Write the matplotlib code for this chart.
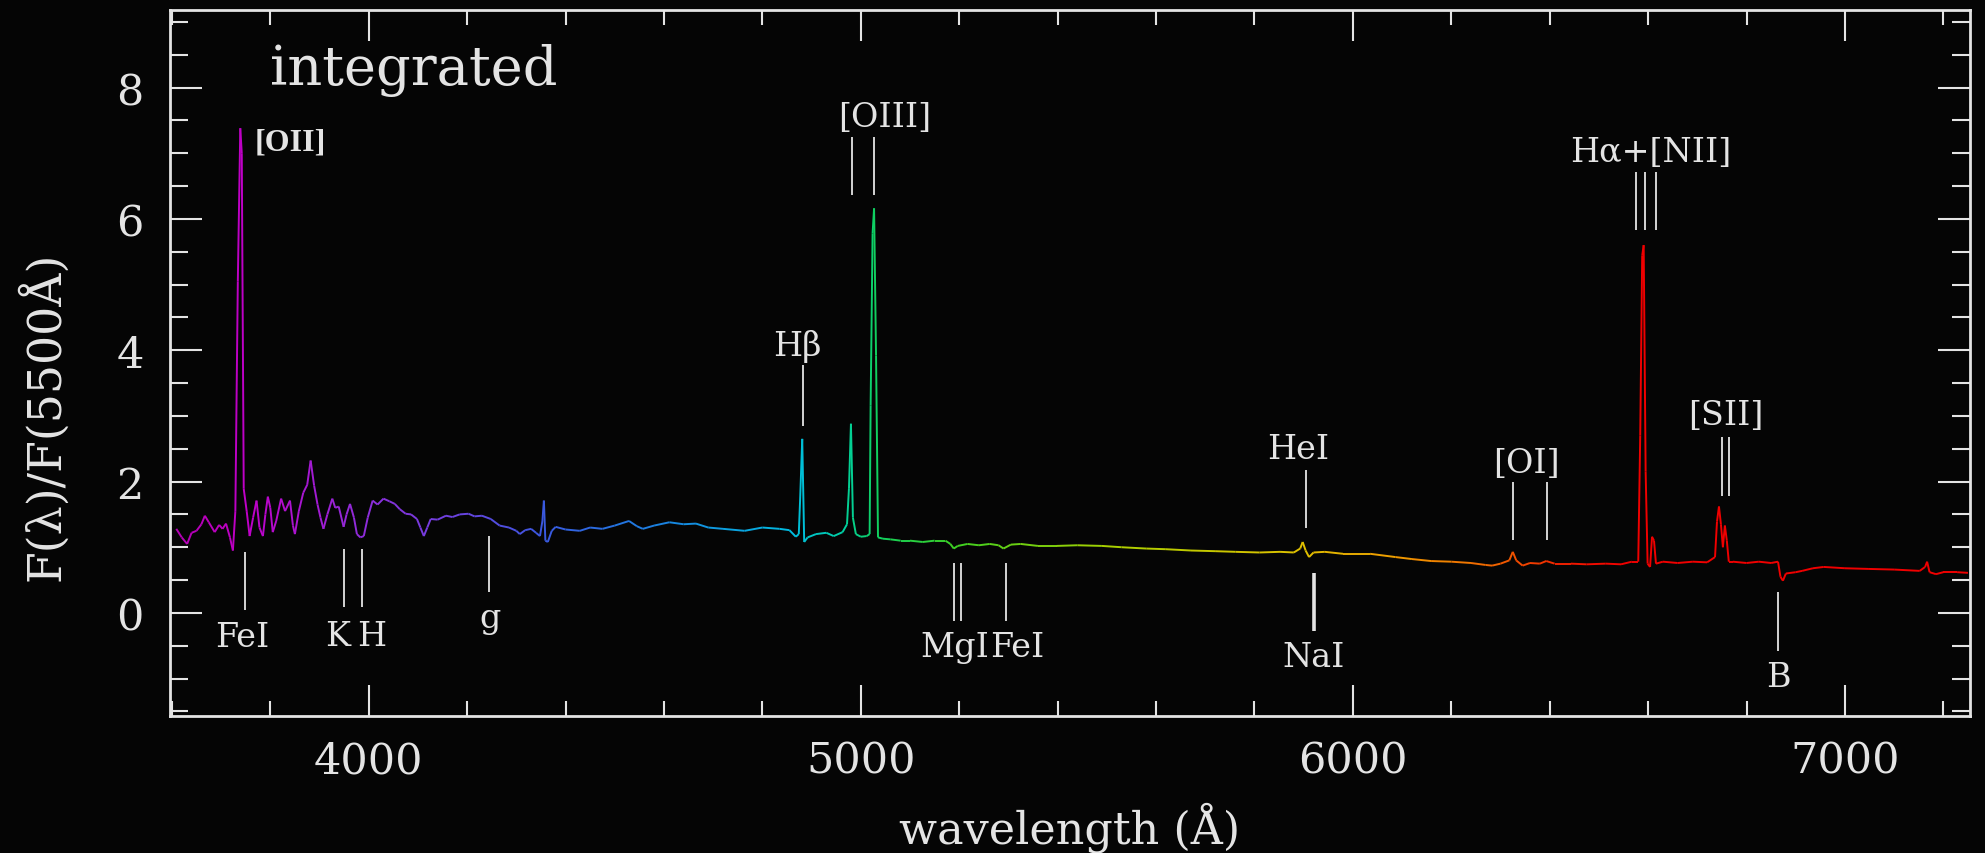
import numpy as np
import matplotlib.pyplot as plt
from matplotlib.collections import LineCollection
from matplotlib.colors import LinearSegmentedColormap, Normalize

# integrated spectrum: wavelength (Å) and F(lambda)/F(5500)
wave = [3609, 3620, 3631, 3640, 3650, 3660, 3667, 3675, 3687, 3696, 3703, 3710, 3718, 3724,
        3729, 3734, 3739, 3742, 3746, 3752, 3758, 3765, 3772, 3778, 3785, 3790, 3795, 3800,
        3805, 3812, 3822, 3830, 3840, 3846, 3850, 3858, 3867, 3875, 3882, 3889, 3896, 3902,
        3908, 3916, 3926, 3932, 3939, 3949, 3955, 3962, 3970, 3976, 3983, 3990, 3998, 4008,
        4018, 4030, 4042, 4053, 4063, 4075, 4086, 4098, 4105, 4112, 4119, 4126, 4140, 4157,
        4170, 4185, 4203, 4215, 4230, 4248, 4266, 4285, 4300, 4307, 4318, 4330, 4340, 4348,
        4353, 4356, 4359, 4364, 4372, 4380, 4400, 4429, 4450, 4475, 4500, 4529, 4545, 4557,
        4580, 4611, 4640, 4665, 4690, 4720, 4764, 4800, 4835, 4855, 4868, 4874, 4877, 4881,
        4885, 4892, 4909, 4930, 4945, 4963, 4972, 4976, 4980, 4984, 4990, 5000, 5012, 5018,
        5020, 5024, 5027, 5031, 5035, 5045, 5060, 5081, 5100, 5126, 5150, 5172, 5182, 5189,
        5197, 5217, 5240, 5262, 5280, 5290, 5305, 5325, 5360, 5398, 5440, 5490, 5530, 5580,
        5620, 5671, 5720, 5762, 5810, 5852, 5880, 5893, 5898, 5904, 5911, 5920, 5943, 5980,
        6035, 6087, 6120, 6159, 6200, 6240, 6270, 6283, 6300, 6318, 6325, 6332, 6345, 6360,
        6380, 6393, 6410, 6443, 6475, 6514, 6545, 6567, 6580, 6584, 6588, 6591, 6595, 6599,
        6604, 6608, 6612, 6616, 6630, 6660, 6691, 6720, 6736, 6740, 6744, 6748, 6752, 6756,
        6760, 6764, 6772, 6800, 6825, 6850, 6864, 6869, 6874, 6880, 6900, 6913, 6935, 6957,
        7000, 7047, 7100, 7152, 7163, 7167, 7172, 7185, 7200, 7228, 7250]
flux = [1.28, 1.15, 1.05, 1.22, 1.25, 1.35, 1.48, 1.38, 1.23, 1.34, 1.28, 1.36, 1.15, 0.95,
        1.55, 5.05, 7.38, 7.00, 1.89, 1.55, 1.17, 1.45, 1.71, 1.30, 1.17, 1.50, 1.77, 1.60,
        1.23, 1.40, 1.74, 1.55, 1.71, 1.33, 1.20, 1.55, 1.83, 1.95, 2.32, 1.94, 1.65, 1.45,
        1.28, 1.50, 1.74, 1.60, 1.62, 1.31, 1.50, 1.66, 1.45, 1.20, 1.15, 1.17, 1.45, 1.71,
        1.65, 1.74, 1.70, 1.66, 1.58, 1.51, 1.50, 1.43, 1.30, 1.17, 1.30, 1.43, 1.42, 1.48,
        1.46, 1.50, 1.51, 1.47, 1.48, 1.43, 1.33, 1.30, 1.25, 1.20, 1.26, 1.28, 1.22, 1.17,
        1.40, 1.71, 1.10, 1.08, 1.25, 1.31, 1.27, 1.25, 1.30, 1.28, 1.33, 1.40, 1.32, 1.28,
        1.33, 1.38, 1.35, 1.36, 1.30, 1.28, 1.25, 1.30, 1.28, 1.26, 1.16, 1.20, 1.78, 2.65,
        1.08, 1.15, 1.20, 1.22, 1.17, 1.23, 1.35, 1.90, 2.88, 1.45, 1.20, 1.16, 1.17, 1.20,
        3.16, 5.78, 6.16, 3.92, 1.15, 1.13, 1.12, 1.10, 1.10, 1.08, 1.10, 1.10, 1.05, 0.98,
        1.02, 1.05, 1.03, 1.05, 1.03, 0.98, 1.04, 1.05, 1.02, 1.02, 1.03, 1.02, 1.00, 0.98,
        0.97, 0.95, 0.94, 0.93, 0.92, 0.93, 0.92, 0.98, 1.08, 0.95, 0.85, 0.92, 0.93, 0.90,
        0.90, 0.85, 0.82, 0.79, 0.78, 0.76, 0.73, 0.72, 0.75, 0.80, 0.93, 0.80, 0.72, 0.76,
        0.75, 0.79, 0.75, 0.75, 0.74, 0.75, 0.74, 0.78, 0.78, 2.70, 5.44, 5.60, 2.15, 0.75,
        0.70, 1.16, 1.10, 0.75, 0.78, 0.76, 0.78, 0.77, 0.85, 1.39, 1.62, 1.35, 1.00, 1.33,
        1.10, 0.78, 0.78, 0.76, 0.78, 0.76, 0.78, 0.55, 0.49, 0.60, 0.62, 0.64, 0.68, 0.70,
        0.68, 0.67, 0.66, 0.64, 0.70, 0.78, 0.62, 0.59, 0.62, 0.62, 0.61]

# line identifications
line_labels = ["FeI", "K", "H", "g", "Hβ", "[OIII]", "MgI", "FeI", "HeI", "NaI",
               "[OI]", "Hα+[NII]", "[SII]", "B"]
line_waves = [[3748], [3949], [3987], [4244], [4882], [4982, 5026], [5189, 5203], [5295],
              [5904], [5921], [6325, 6394], [6575, 6594, 6616], [6750, 6764], [6864]]

# marker placement: (tick bottom, tick top, label x, label baseline, ha)
mark_pos = [(0.05, 0.93, 3744, -0.50, "center"),
            (0.09, 0.98, 3937, -0.49, "center"),
            (0.09, 0.98, 4006, -0.49, "center"),
            (0.32, 1.17, 4246, -0.21, "center"),
            (2.84, 3.77, 4872, 3.93, "center"),
            (6.36, 7.24, 5049, 7.42, "center"),
            (-0.12, 0.76, 5262, -0.66, "right"),
            (-0.12, 0.76, 5262, -0.66, "left"),
            (1.30, 2.18, 5888, 2.36, "center"),
            (-0.27, 0.61, 5921, -0.81, "center"),
            (1.11, 2.00, 6352, 2.15, "center"),
            (5.83, 6.72, 6606, 6.88, "center"),
            (1.78, 2.68, 6758, 2.88, "center"),
            (-0.58, 0.32, 6864, -1.11, "center")]

fg = "#e4e4e4"
bg = "#050505"
plt.rcParams["font.family"] = ["DejaVu Serif"]

fig = plt.figure(figsize=(19.85, 8.54), dpi=100, facecolor=bg)
ax = fig.add_axes([0.0856, 0.1604, 0.9068, 0.8267], facecolor=bg)

# rainbow colouring by wavelength
wl_stops = [3600, 3750, 3950, 4150, 4350, 4600, 4860, 4960, 5030, 5200, 5500, 5900,
            6100, 6300, 6450, 6550, 7250]
wl_colors = ["#b400b4", "#c000c8", "#9428d8", "#7040e0", "#3a58e0", "#1884e0", "#00bce0",
             "#00d0a0", "#10d060", "#40d020", "#a8d000", "#e0c000", "#f09800", "#f06000",
             "#f01800", "#f00000", "#f00000"]
rainbow = LinearSegmentedColormap.from_list(
    "rainbow_wl", [((s - 3600) / 3650, c) for s, c in zip(wl_stops, wl_colors)])
norm = Normalize(3600, 7250)

w = np.array(wave, dtype=float)
f = np.array(flux, dtype=float)
pts = np.column_stack([w, f])
segs = np.stack([pts[:-1], pts[1:]], axis=1)
lc = LineCollection(segs, colors=rainbow(norm(0.5 * (w[:-1] + w[1:]))), linewidths=1.4,
                    capstyle="butt", joinstyle="miter")
ax.add_collection(lc)

for label, waves, (y0, y1, lx, ly, ha) in zip(line_labels, line_waves, mark_pos):
    lw = 2.6 if label == "NaI" else 1.3
    for wl in waves:
        ax.plot([wl, wl], [y0, y1], color=fg, lw=lw, solid_capstyle="butt")
    ax.text(lx, ly, label, color=fg, fontsize=24, ha=ha, va="baseline")

ax.text(3768, 7.06, "[OII]", color=fg, fontsize=23, fontweight="bold", ha="left",
        va="baseline", family="Liberation Serif")
ax.text(3800, 8.06, "integrated", color=fg, fontsize=39, ha="left", va="baseline")

ax.set_xlim(3596, 7254)
ax.set_ylim(-1.57, 9.18)
ax.set_xticks([4000, 5000, 6000, 7000])
ax.set_xticks(np.arange(3600, 7250, 200), minor=True)
ax.set_yticks([0, 2, 4, 6, 8])
ax.set_yticks(np.arange(-1.5, 9.1, 0.5), minor=True)

for s in ax.spines.values():
    s.set_color(fg)
    s.set_linewidth(2.0)
ax.tick_params(which="both", direction="in", top=True, right=True, colors=fg, width=1.5)
ax.tick_params(axis="x", which="major", length=22, pad=17, labelsize=31)
ax.tick_params(axis="x", which="minor", length=11)
ax.tick_params(axis="y", which="major", length=23, pad=19, labelsize=31)
ax.tick_params(axis="y", which="minor", length=13)

fig.text(0.539, 0.031, "wavelength (Å)", color=fg, fontsize=32, ha="center", va="center")
fig.text(0.022, 0.512, "F(λ)/F(5500Å)", color=fg, fontsize=33, rotation=90,
         ha="center", va="center")

fig.savefig("out.png", dpi=100, facecolor=bg)
